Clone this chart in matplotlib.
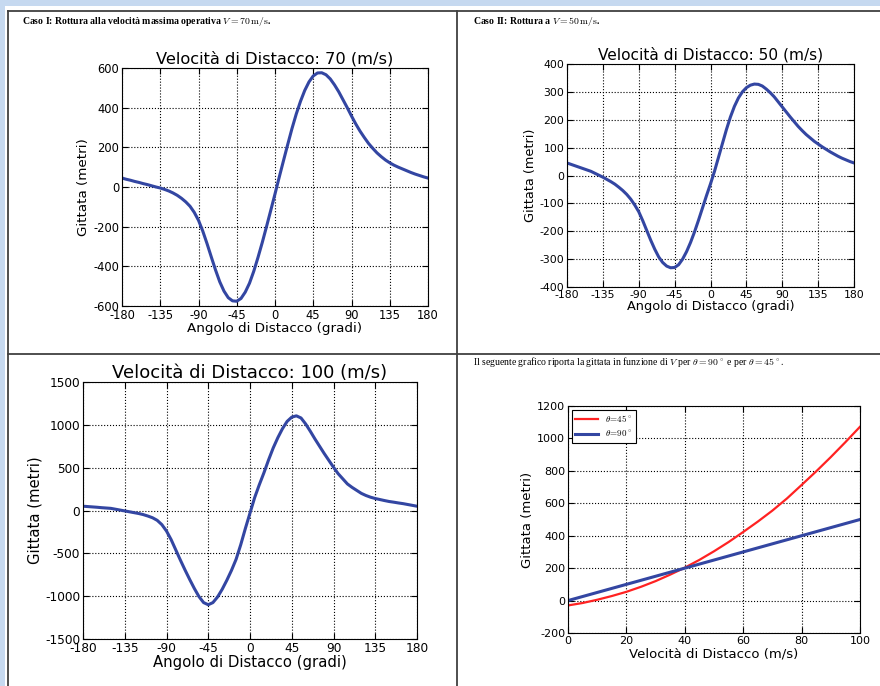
import matplotlib
matplotlib.use("Agg")
import matplotlib.pyplot as plt
from matplotlib.patches import Rectangle

plt.rcParams['mathtext.fontset'] = 'cm'
plt.rcParams['font.family'] = ['DejaVu Sans']

# ---------------- data ----------------
angles = list(range(-180, 181, 5))

range70 = [45, 39, 34, 28, 23, 17, 12, 6, 0, -5, -12, -20, -30, -42, -57, -75, -97, -128,
           -168, -222, -285, -352, -418, -478, -525, -558, -574, -576, -562, -530, -485, -425,
           -355, -280, -200, -118, -35, 50, 133, 215, 295, 368, 432, 487, 530, 560, 575, 576,
           566, 545, 515, 480, 440, 400, 358, 318, 282, 250, 220, 195, 172, 153, 136, 122,
           110, 100, 91, 82, 73, 65, 58, 51, 45]

range50 = [45, 40, 35, 30, 25, 20, 15, 8, 1, -6, -14, -22, -31, -42, -54, -68, -85, -106,
           -130, -162, -197, -232, -264, -292, -312, -325, -331, -330, -320, -300, -273, -240,
           -202, -160, -116, -72, -30, 15, 65, 115, 165, 210, 248, 278, 300, 315, 324, 328,
           327, 321, 310, 297, 282, 264, 246, 228, 210, 193, 176, 161, 147, 135, 123, 113,
           103, 94, 85, 77, 69, 62, 56, 50, 45]

range100 = [50, 46, 42, 38, 33, 29, 25, 15, 5, -5, -15, -25, -35, -48, -65, -85, -115, -165,
            -240, -340, -460, -580, -695, -805, -910, -1005, -1075, -1100, -1075, -1010, -920,
            -815, -700, -570, -400, -210, -30, 150, 300, 440, 590, 730, 850, 955, 1040, 1090,
            1105, 1080, 1010, 925, 835, 750, 665, 585, 505, 430, 370, 310, 270, 235, 200, 175,
            155, 140, 128, 116, 105, 97, 88, 80, 70, 60, 50]

speed = list(range(0, 101, 5))
range45 = [-30, -15, 5, 28, 54, 85, 120, 160, 203, 251, 304, 361, 423, 487, 555, 630, 713,
           797, 885, 977, 1072]
range90 = [0, 25, 50, 75, 100, 125, 150, 175, 200, 225, 250, 275, 300, 325, 350, 375, 400,
           425, 450, 475, 500]

angle_ticks = [-180, -135, -90, -45, 0, 45, 90, 135, 180]
angle_ticklabels = ['-180', '-135', '-90', '-45', '0', '45', '90', '135', '180']

BLUE = '#3346a2'
RED = '#ff2222'
W, H = 880, 686

fig = plt.figure(figsize=(8.8, 6.86), dpi=100)


def pax(x0, y0, x1, y1):
    return fig.add_axes([x0 / W, 1 - y1 / H, (x1 - x0) / W, (y1 - y0) / H])


def style(ax, fs):
    ax.grid(True, color='black', linestyle=':', linewidth=0.8)
    ax.tick_params(direction='in', top=True, right=True, labelsize=fs, length=4, pad=2)
    for s in ax.spines.values():
        s.set_linewidth(0.8)


# background / page decoration
bg = fig.add_axes([0, 0, 1, 1])
bg.set_xlim(0, W)
bg.set_ylim(H, 0)
bg.axis('off')
bg.add_patch(Rectangle((0, 0), W, 6, color='#c6d9f0', lw=0))
bg.add_patch(Rectangle((0, 0), 5, H, color='#c6d9f0', lw=0))
lc = '#404040'
bg.plot([8, W], [11, 11], color=lc, lw=1.3)
bg.plot([8, 8], [11, H], color=lc, lw=1.3)
bg.plot([457, 457], [11, H], color=lc, lw=1.3)
bg.plot([8, W], [354, 354], color=lc, lw=1.3)

hfont = dict(family='Liberation Serif', fontsize=7.0, va='center', ha='left')
bg.text(22, 21, r"Caso I: Rottura alla velocità massima operativa $V = 70\,\mathrm{m/s}$.",
        fontweight='bold', **hfont)
bg.text(473, 21, r"Caso II: Rottura a $V = 50\,\mathrm{m/s}$.", fontweight='bold', **hfont)
bg.text(473, 362,
        r"Il seguente grafico riporta la gittata in funzione di $V$ per $\theta = 90^\circ$ e per $\theta = 45^\circ$.",
        **hfont)

# panel 1
ax1 = pax(122, 68, 428, 306)
ax1.plot(angles, range70, color=BLUE, lw=2.2)
ax1.set_xlim(-180, 180)
ax1.set_ylim(-600, 600)
ax1.set_xticks(angle_ticks)
ax1.set_xticklabels(angle_ticklabels)
ax1.set_yticks([-600, -400, -200, 0, 200, 400, 600])
ax1.set_yticklabels(['-600', '-400', '-200', '0', '200', '400', '600'])
style(ax1, 8.3)
ax1.set_title('Velocità di Distacco: 70 (m/s)', fontsize=11.7, pad=3)
ax1.set_xlabel('Angolo di Distacco (gradi)', fontsize=9.7, labelpad=0)
ax1.set_ylabel('Gittata (metri)', fontsize=9.7, labelpad=2)

# panel 2
ax2 = pax(567, 64, 854, 287)
ax2.plot(angles, range50, color=BLUE, lw=2.2)
ax2.set_xlim(-180, 180)
ax2.set_ylim(-400, 400)
ax2.set_xticks(angle_ticks)
ax2.set_xticklabels(angle_ticklabels)
ax2.set_yticks(range(-400, 401, 100))
ax2.set_yticklabels([str(v) for v in range(-400, 401, 100)])
style(ax2, 7.8)
ax2.set_title('Velocità di Distacco: 50 (m/s)', fontsize=11.1, pad=3)
ax2.set_xlabel('Angolo di Distacco (gradi)', fontsize=9.3, labelpad=0)
ax2.set_ylabel('Gittata (metri)', fontsize=9.3, labelpad=2)

# panel 3
ax3 = pax(83, 382, 417, 639)
ax3.plot(angles, range100, color=BLUE, lw=2.2)
ax3.set_xlim(-180, 180)
ax3.set_ylim(-1500, 1500)
ax3.set_xticks(angle_ticks)
ax3.set_xticklabels(angle_ticklabels)
ax3.set_yticks(range(-1500, 1501, 500))
ax3.set_yticklabels([str(v) for v in range(-1500, 1501, 500)])
style(ax3, 8.7)
ax3.set_title('Velocità di Distacco: 100 (m/s)', fontsize=13, pad=3)
ax3.set_xlabel('Angolo di Distacco (gradi)', fontsize=10.7, labelpad=0)
ax3.set_ylabel('Gittata (metri)', fontsize=10.7, labelpad=2)

# panel 4
ax4 = pax(568, 406, 860, 633)
ax4.plot(speed, range45, color=RED, lw=1.6, label=r'$\theta\!=\!45^\circ$')
ax4.plot(speed, range90, color=BLUE, lw=2.2, label=r'$\theta\!=\!90^\circ$')
ax4.set_xlim(0, 100)
ax4.set_ylim(-200, 1200)
ax4.set_xticks(range(0, 101, 20))
ax4.set_yticks(range(-200, 1201, 200))
ax4.set_yticklabels([str(v) for v in range(-200, 1201, 200)])
style(ax4, 8.0)
ax4.set_xlabel('Velocità di Distacco (m/s)', fontsize=9.5, labelpad=1)
ax4.set_ylabel('Gittata (metri)', fontsize=9.5, labelpad=2)
leg = ax4.legend(loc='upper left', fontsize=6.5, fancybox=False, framealpha=1,
                 edgecolor='black', borderaxespad=0.4, handlelength=2.5)
leg.get_frame().set_linewidth(0.8)

fig.savefig('out.png', dpi=100)
